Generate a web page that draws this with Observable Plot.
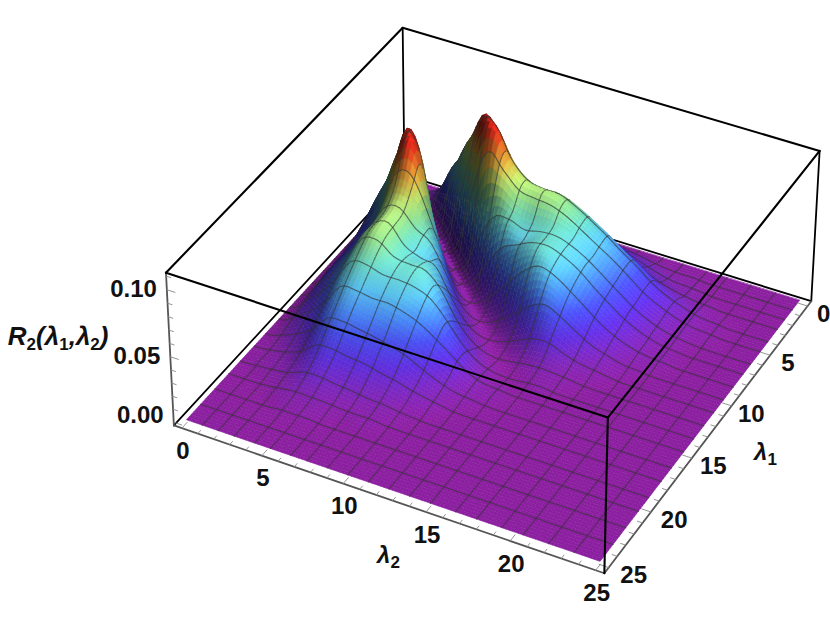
<!DOCTYPE html>
<html><head><meta charset="utf-8">
<style>html,body{margin:0;padding:0;background:#fff}svg{display:block}</style>
<script src="https://cdn.jsdelivr.net/npm/d3@7"></script>
<script src="https://cdn.jsdelivr.net/npm/@observablehq/plot@0.6"></script>
</head><body><div id="chart"></div>
<script>
// R2 is symmetric: row a lists the height at lambda1 = a for lambda2 = a+1, a+2, ...; missing = 0
const upperRows = [
[],
[.004,.012,.020,.024,.024,.020,.016,.014,.013,.013,.012,.010,.008,.006,.004,.002,.001,.001],
[.012,.038,.050,.050,.040,.030,.027,.026,.026,.025,.022,.018,.014,.010,.006,.003,.002,.001],
[.018,.055,.078,.072,.055,.046,.042,.042,.041,.037,.032,.025,.019,.012,.007,.004,.002,.001],
[.020,.066,.103,.096,.075,.064,.061,.061,.056,.049,.041,.032,.024,.015,.009,.005,.002,.001],
[.014,.070,.097,.080,.068,.066,.064,.058,.050,.042,.034,.025,.016,.010,.005,.002,.001],
[.012,.050,.063,.056,.052,.053,.052,.047,.040,.032,.023,.014,.008,.004,.002,.001],
[.012,.036,.048,.046,.050,.051,.047,.040,.030,.021,.013,.007,.003,.001],
[.008,.026,.040,.048,.050,.045,.037,.027,.018,.010,.005,.002,.001],
[.006,.018,.032,.042,.040,.032,.023,.014,.008,.004,.002,.001],
[.004,.013,.023,.029,.024,.016,.009,.005,.002,.001],
[.003,.009,.015,.015,.009,.005,.003,.001],
[.002,.005,.006,.004,.002,.001],
[.001,.002,.002,.001],
[.001,.001]
];
const meshLines = [1,2,3,4.25,5.25,6.5,7.5,8.75,10,11.25,12.5,13.75,15,16.5,17.75,19.25,20.5,22,23.5];
const lambdaTicks = [0,5,10,15,20,25];
const heightTicks = [0,0.05,0.1];
const zLabelShift = [-7,0,0];
const heightStops  = [0,.005,.014,.024,.033,.043,.052,.062,.071,.078,.085,.093,.1];
const heightColors = ["#8b1fa0","#7a25b5","#5f2fe0","#4a50f5","#4a8cff","#5cc8f5","#6ddcc8","#95e08a","#c8ea70","#eed050","#f5a035","#f05a25","#e82a1c"];

// view box in data units and the camera that looks at it
const L0=-0.5, L1=25.5, Z0=-0.0025, Z1=0.1125, LMAX=25;
const boxViews = [
 [L0,L0,Z0,403,175],[L0,L0,Z1,403,27],
 [L1,L0,Z0,174,425],[L1,L0,Z1,165,272],
 [L0,L1,Z0,811,300],[L0,L1,Z1,819,151],
 [L1,L1,Z0,604,573],[L1,L1,Z1,607,417]];
function solveCamera(views){
  const A=[],b=[];
  for(const [a,c,z,x,y] of views){
    const u=(a-L0)/(L1-L0),v=(c-L0)/(L1-L0),w=(z-Z0)/(Z1-Z0);
    A.push([u,v,w,1,0,0,0,0,-x*u,-x*v,-x*w]);b.push(x);
    A.push([0,0,0,0,u,v,w,1,-y*u,-y*v,-y*w]);b.push(y);
  }
  const m=11,M=d3.range(m).map(r=>d3.range(m+1).map(c=>{
    let t=0;for(let k=0;k<A.length;k++)t+=A[k][r]*(c<m?A[k][c]:b[k]);return t;}));
  for(let p=0;p<m;p++){
    let best=p;for(let r=p+1;r<m;r++)if(Math.abs(M[r][p])>Math.abs(M[best][p]))best=r;
    [M[p],M[best]]=[M[best],M[p]];
    for(let r=0;r<m;r++)if(r!==p){const f=M[r][p]/M[p][p];for(let c=p;c<=m;c++)M[r][c]-=f*M[p][c];}
  }
  return d3.range(m).map(r=>M[r][m]/M[r][r]);
}
const cam=solveCamera(boxViews);
function project3(a,c,z){
  const u=(a-L0)/(L1-L0),v=(c-L0)/(L1-L0),w=(z-Z0)/(Z1-Z0);
  const d=cam[8]*u+cam[9]*v+cam[10]*w+1;
  return [(cam[0]*u+cam[1]*v+cam[2]*w+cam[3])/d,(cam[4]*u+cam[5]*v+cam[6]*w+cam[7])/d];
}
// Plot projection: 3-D positions go through the camera, 2-D ones are already on screen
const view3d = d3.geoTransform({point(x,y,z){
  if(z===undefined) this.stream.point(x,y);
  else {const p=project3(x,y,z);this.stream.point(p[0],p[1]);}
}});

// display smoothing between the read heights; done on the signed root so the diagonal valley stays at zero
const S=4,N=25*S,STEP=1/S;
const height=(a,b)=>{const lo=Math.min(a,b),hi=Math.max(a,b);if(lo===hi)return 0;const r=upperRows[lo];return r?(r[hi-lo-1]||0):0;};
const root=(a,b)=>{a=Math.max(0,Math.min(25,a));b=Math.max(0,Math.min(25,b));return Math.sign(b-a)*Math.sqrt(height(a,b));};
const cr=(p0,p1,p2,p3,t)=>0.5*(2*p1+(p2-p0)*t+(2*p0-5*p1+4*p2-p3)*t*t+(3*p1-p0-3*p2+p3)*t*t*t);
function smooth(a,b){
  const i=Math.min(24,Math.floor(a/S)),j=Math.min(24,Math.floor(b/S)),t=a/S-i,s=b/S-j;
  const r=[-1,0,1,2].map(di=>cr(root(i+di,j-1),root(i+di,j),root(i+di,j+1),root(i+di,j+2),s));
  const w=cr(r[0],r[1],r[2],r[3],t);
  return w*w;
}
const Z=d3.range(N+1).map(a=>d3.range(N+1).map(b=>smooth(a,b)));
const base=d3.scaleLinear().domain(heightStops).range(heightColors).interpolate(d3.interpolateRgb).clamp(true);
const light=[0.10,0.45,0.89],ZS=91,SPAN=3;
const ZC=(a,b)=>Z[Math.max(0,Math.min(N,a))][Math.max(0,Math.min(N,b))];
function shade(a,b){
  const z=(Z[a][b]+Z[a+1][b]+Z[a][b+1]+Z[a+1][b+1])/4;
  // slope taken over a wider span so the light varies smoothly across the surface
  const fx=(ZC(a+1+SPAN,b)+ZC(a+1+SPAN,b+1)-ZC(a-SPAN,b)-ZC(a-SPAN,b+1))/2/((2*SPAN+1)*STEP)*ZS;
  const fy=(ZC(a,b+1+SPAN)+ZC(a+1,b+1+SPAN)-ZC(a,b-SPAN)-ZC(a+1,b-SPAN))/2/((2*SPAN+1)*STEP)*ZS;
  const l=Math.hypot(fx,fy,1);
  const dot=(-fx*light[0]-fy*light[1]+light[2])/l;
  const k=0.30+0.79*Math.max(0,dot);
  const c=d3.rgb(base(z));
  return d3.rgb(c.r*k,c.g*k,c.b*k).formatHex();
}
const meshSet=new Set(meshLines.map(l=>Math.round(l*S)));
const features=[];
const P=(a,b)=>[a*STEP,b*STEP,Z[a][b]];
for(let a=0;a<N;a++)for(let b=0;b<N;b++){
  const col=shade(a,b);
  features.push({type:"Feature",properties:{fill:col,stroke:col,w:0.6,o:1},
    geometry:{type:"Polygon",coordinates:[[P(a,b),P(a+1,b),P(a+1,b+1),P(a,b+1),P(a,b)]]}});
  if(meshSet.has(a)) features.push({type:"Feature",properties:{fill:"none",stroke:"#333",w:1.1,o:.65},
    geometry:{type:"LineString",coordinates:[P(a,b),P(a,b+1)]}});
  if(meshSet.has(b)) features.push({type:"Feature",properties:{fill:"none",stroke:"#333",w:1.1,o:.65},
    geometry:{type:"LineString",coordinates:[P(a,b),P(a+1,b)]}});
}
const edge=(p,q)=>({type:"LineString",coordinates:[p,q]});
const backEdges=[
  edge([L1,L0,Z0],[L0,L0,Z0]),edge([L0,L0,Z0],[L0,L1,Z0]),
  edge([L0,L0,Z0],[L0,L0,Z1]),edge([L0,L1,Z0],[L0,L1,Z1])];
const topEdges=[
  edge([L1,L0,Z1],[L0,L0,Z1]),edge([L0,L0,Z1],[L0,L1,Z1]),
  edge([L0,L1,Z1],[L1,L1,Z1]),edge([L1,L1,Z1],[L1,L0,Z1]),
  edge([L1,L1,Z1],[L1,L1,Z0])];
const axisEdges=[
  edge([L1,L0,Z0],[L1,L1,Z0]),edge([L1,L1,Z0],[L0,L1,Z0]),edge([L1,L0,Z0],[L1,L0,Z1])];
const tickGeo=[];
d3.range(0,26).forEach(t=>{
  const len=t%5===0?0.55:0.3;
  tickGeo.push(edge([L1,t,Z0],[L1-len,t,Z0]));
  tickGeo.push(edge([t,L1,Z0],[t,L1-len,Z0]));
});
d3.range(0,0.111,0.01).forEach(z=>{
  tickGeo.push(edge([L1,L0,z],[L1,L0+(Math.round(z*100)%5===0?0.5:0.28),z]));
});
const font="'Liberation Sans',Arial,sans-serif";
const l2Labels=lambdaTicks.map(t=>{const p=project3(L1,t,Z0);return{t:String(t),x:p[0]+1,y:p[1]+23};});
const l1Labels=lambdaTicks.map(t=>{const p=project3(t,L1,Z0);return{t:String(t),x:p[0]+16+9*t/25,y:p[1]+8};});
const zLabels=heightTicks.map((z,i)=>{const p=project3(L1,L0,z);return{t:z.toFixed(2),x:p[0]-10,y:p[1]+zLabelShift[i]};});
const lab={fontSize:24,fontWeight:"bold",fill:"#111"};
const plot=Plot.plot({
  width:830,height:636,margin:0,
  projection:view3d,
  style:{background:"#fff",fontFamily:font},
  marks:[
    Plot.geo(backEdges,{stroke:"#000",strokeWidth:1.8}),
    Plot.geo(features,{
      fill:{value:d=>d.properties.fill,scale:null},
      stroke:{value:d=>d.properties.stroke,scale:null},
      strokeWidth:d=>d.properties.w,
      strokeOpacity:d=>d.properties.o}),
    Plot.geo(axisEdges,{stroke:"#555",strokeWidth:1.8}),
    Plot.geo(tickGeo,{stroke:"#888",strokeWidth:0.9}),
    Plot.geo(topEdges,{stroke:"#000",strokeWidth:2.1}),
    Plot.text(l2Labels,{x:"x",y:"y",text:"t",...lab}),
    Plot.text(l1Labels,{x:"x",y:"y",text:"t",...lab}),
    Plot.text(zLabels,{x:"x",y:"y",text:"t",...lab,textAnchor:"end"}),
    Plot.text(["λ2"],{x:[388],y:[555],text:d=>d,...lab,fontStyle:"italic"}),
    Plot.text(["λ1"],{x:[765],y:[452],text:d=>d,...lab,fontStyle:"italic"}),
    Plot.text(["R2(λ1,λ2)"],{x:[108],y:[336],text:d=>d,...lab,fontSize:26,fontStyle:"italic",textAnchor:"end"})
  ]
});
// set the digits of the axis titles as subscripts
plot.querySelectorAll("text").forEach(node=>{
  const s=node.textContent;
  if(!/[Rλ]/.test(s))return;
  const tspanHost=node.querySelector("tspan")||node;
  tspanHost.textContent="";
  s.split(/(\d)/).filter(p=>p).forEach(part=>{
    const sp=document.createElementNS("http://www.w3.org/2000/svg","tspan");
    sp.textContent=part;
    if(/\d/.test(part)){sp.setAttribute("font-size","17");sp.setAttribute("font-style","normal");sp.setAttribute("dy","5");}
    else if(tspanHost.childNodes.length&&/\d/.test(tspanHost.lastChild.textContent)) sp.setAttribute("dy","-5");
    tspanHost.append(sp);
  });
});
document.getElementById("chart").append(plot);
</script></body></html>
